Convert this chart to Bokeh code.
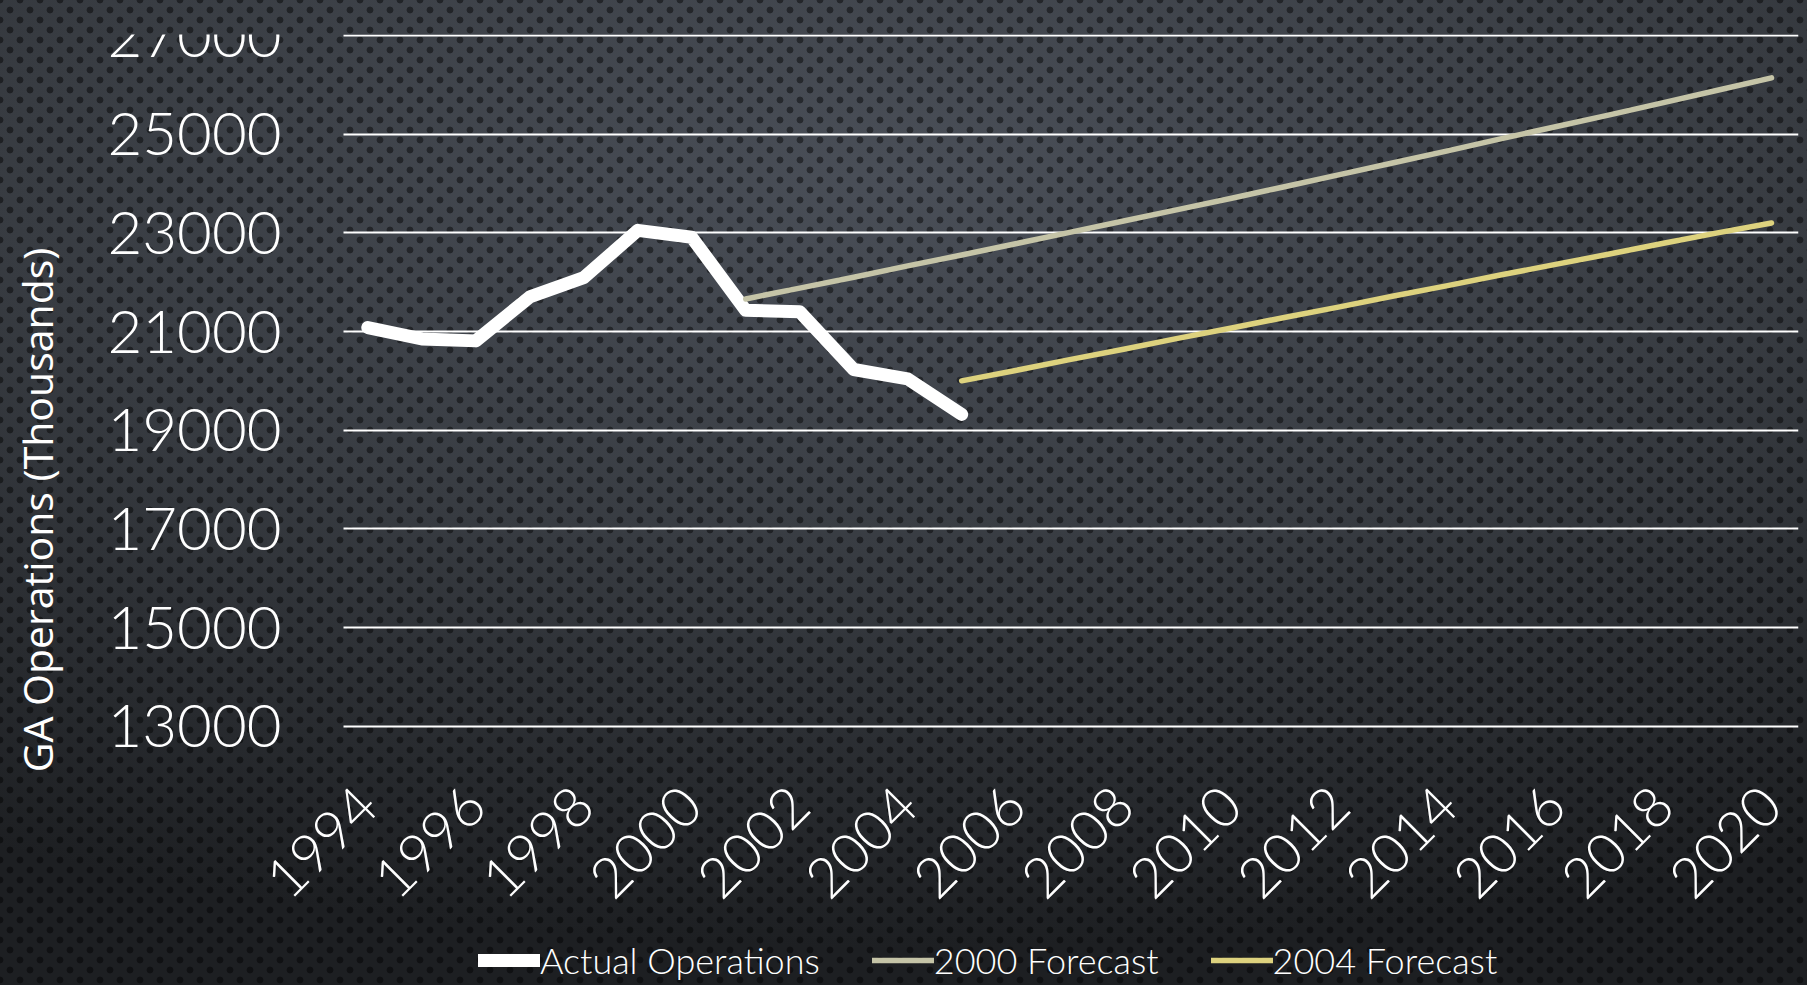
from math import pi
from bokeh.plotting import figure
from bokeh.models import FixedTicker, Legend, LegendItem
from bokeh.embed import file_html
from bokeh.resources import INLINE

# ---- data ----
actual_years = list(range(1994, 2006))
actual_ops = [21080, 20850, 20810, 21700, 22090, 23050, 22910, 21430, 21400, 20230, 20040, 19320]

f2000_years = list(range(2001, 2021))
f2000_ops = [21660, 21880, 22100, 22330, 22550, 22780, 23010, 23240, 23470, 23700,
             23940, 24180, 24420, 24660, 24910, 25150, 25390, 25640, 25890, 26140]

f2004_years = list(range(2005, 2021))
f2004_ops = [20000, 20210, 20430, 20640, 20860, 21070, 21290, 21500,
             21720, 21930, 22150, 22360, 22570, 22790, 23000, 23200]

year_ticks = list(range(1994, 2021, 2))
value_ticks = list(range(13000, 27001, 2000))
series_names = ["Actual Operations", "2000 Forecast", "2004 Forecast"]
y_title = "GA Operations (Thousands)"

LIGHT = "Lato Light, Roboto Light, Lato, sans-serif"

# plotting area (in years) that carries the gridlines; the frame itself spans the
# whole page so that year labels and legend are not clipped
AREA_START, AREA_END = 1993.55, 2020.5

p = figure(width=1807, height=985, output_backend="svg", toolbar_location=None,
           x_range=(1987.197, AREA_END), y_range=(7744, 27020),
           min_border_left=0, min_border_right=9, min_border_top=34, min_border_bottom=0)

dots = "radial-gradient(circle at 50% 50%, rgba(0,0,0,0.45) 3px, rgba(0,0,0,0) 3.8px)"
p.styles = {
    "position": "absolute", "left": "0px", "top": "0px",
    "background": (dots + " 0px 0px / 20px 20px, " + dots + " 10px 10px / 20px 20px, "
                   "radial-gradient(ellipse 110% 85% at 50% 18%, #4a4f58 0%, #383c42 45%, #1d1f22 92%)"),
}
p.background_fill_alpha = 0
p.border_fill_alpha = 0
p.outline_line_color = None

p.xgrid.visible = False
p.ygrid.ticker = FixedTicker(ticks=value_ticks)
p.ygrid.grid_line_color = "white"
p.ygrid.grid_line_width = 2
try:
    p.ygrid.cross_bounds = (AREA_START, AREA_END)
except Exception:
    p.ygrid.visible = False
    p.segment(x0=[AREA_START] * len(value_ticks), x1=[AREA_END] * len(value_ticks),
              y0=value_ticks, y1=value_ticks, line_color="white", line_width=2)

for ax in (p.xaxis[0], p.yaxis[0]):
    ax.axis_line_color = None
    ax.major_tick_line_color = None
    ax.minor_tick_line_color = None
    ax.major_label_text_color = "white"
    ax.major_label_text_font = LIGHT

p.yaxis.ticker = FixedTicker(ticks=value_ticks)
p.yaxis.fixed_location = AREA_START
p.yaxis.major_label_text_font_size = "60px"
p.yaxis.major_label_standoff = 56
p.yaxis.axis_label = y_title
p.yaxis.axis_label_text_font = "Open Sans"
p.yaxis.axis_label_text_font_style = "normal"
p.yaxis.axis_label_text_font_size = "41px"
p.yaxis.axis_label_text_color = "white"
p.yaxis.axis_label_standoff = 40

p.xaxis.ticker = FixedTicker(ticks=year_ticks)
p.xaxis.fixed_location = value_ticks[0]
p.xaxis.major_label_orientation = pi / 4
p.xaxis.major_label_text_font_size = "56px"
p.xaxis.major_label_standoff = 64

r1 = p.line(actual_years, actual_ops, line_color="white", line_width=13,
            line_join="round", line_cap="round")
r2 = p.line(f2000_years, f2000_ops, line_color="#c5c4a7", line_width=5.5,
            line_join="round", line_cap="round")
r3 = p.line(f2004_years, f2004_ops, line_color="#ddd27e", line_width=5.5,
            line_join="round", line_cap="round")

legend = Legend(items=[LegendItem(label=series_names[0], renderers=[r1]),
                       LegendItem(label=series_names[1], renderers=[r2]),
                       LegendItem(label=series_names[2], renderers=[r3])],
                orientation="horizontal", location=(478, 3),
                label_text_font=LIGHT, label_text_font_size="36px",
                label_text_color="white", glyph_width=62, glyph_height=30,
                spacing=52, label_standoff=0, padding=0, margin=0,
                background_fill_alpha=0, border_line_alpha=0)
p.add_layout(legend)

open("out.html", "w").write(file_html(p, INLINE))
